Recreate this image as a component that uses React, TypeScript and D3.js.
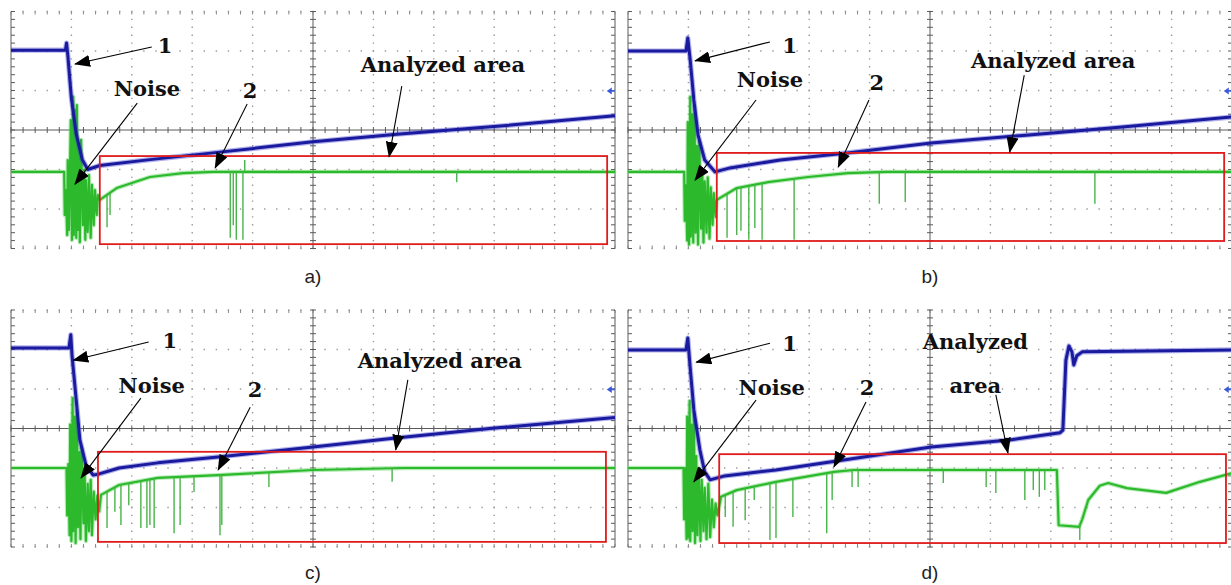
import * as d3 from 'd3';
import React, { useEffect, useRef } from 'react';

type Pt = [number, number];
type Label = { text: string; x: number; y: number };
type Arrow = [number, number, number, number];

const WIDTH = 1231;
const HEIGHT = 585;
const PANEL_W = 604;
const PANEL_H = 237;

// Screen units are oscilloscope divisions: x 0..10, y -3..3 (0 = centre line)

// a)
const blueA: Pt[] = [[0, 2.02], [0.9, 2.02], [0.92, 2.2], [0.94, 1.9], [1.0, 0.8], [1.08, -0.1], [1.18, -0.75], [1.27, -1.0], [1.47, -0.9], [2.3, -0.75], [3.46, -0.56], [5, -0.3], [6.44, -0.1], [8.1, 0.1], [10, 0.36]];
const greenA: Pt[] = [[0, -1.06], [0.88, -1.06], [0.89, -2.15], [0.91, -1.52], [0.93, -2.66], [0.94, -0.76], [0.96, -2.53], [0.99, 0.25], [1.01, -2.78], [1.03, 0.84], [1.04, -2.66], [1.06, 0.51], [1.08, -2.73], [1.09, 0.63], [1.11, -2.53], [1.13, -0.51], [1.14, -2.84], [1.16, -0.25], [1.19, -2.41], [1.21, -1.01], [1.23, -2.78], [1.24, -1.27], [1.27, -2.58], [1.29, -1.14], [1.32, -2.73], [1.34, -1.39], [1.37, -2.41], [1.39, -1.52], [1.42, -2.15], [1.44, -1.65], [1.47, -1.77], [1.75, -1.47], [2.3, -1.19], [2.85, -1.09], [3.35, -1.06], [10, -1.06]];
const spikesA: Pt[] = [[1.59, -2.46], [1.64, -2.15], [3.63, -2.73], [3.68, -2.41], [3.73, -2.78], [3.84, -2.78], [3.87, -0.76], [7.38, -1.32]];
const boxA = [1.47, -0.66, 9.87, -2.89];
const labelsA: Label[] = [{ text: '1', x: 2.55, y: 2.15 }, { text: 'Noise', x: 2.25, y: 1.04 }, { text: '2', x: 3.96, y: 0.99 }, { text: 'Analyzed area', x: 7.15, y: 1.65 }];
const arrowsA: Arrow[] = [[2.33, 2.1, 1.06, 1.67], [2.09, 0.68, 1.06, -1.37], [3.91, 0.66, 3.38, -0.96], [6.47, 1.11, 6.26, -0.68]];

// b)
const blueB: Pt[] = [[0, 2.0], [0.96, 2.0], [0.99, 2.33], [1.03, 1.77], [1.09, 0.76], [1.16, -0.13], [1.27, -0.76], [1.44, -1.06], [1.69, -0.96], [2.52, -0.76], [3.63, -0.58], [5.02, -0.33], [6.59, -0.13], [8.23, 0.08], [10, 0.33]];
const greenB: Pt[] = [[0, -1.06], [0.93, -1.06], [0.94, -2.3], [0.96, -1.4], [0.98, -2.8], [0.99, 0.2], [1.01, -2.9], [1.03, 0.84], [1.04, -2.7], [1.06, 0.4], [1.08, -2.85], [1.1, 0.6], [1.12, -2.6], [1.14, -0.4], [1.16, -2.9], [1.18, -0.3], [1.21, -2.5], [1.23, -1.1], [1.25, -2.85], [1.27, -1.3], [1.3, -2.6], [1.32, -1.2], [1.35, -2.75], [1.37, -1.45], [1.4, -2.4], [1.42, -1.6], [1.45, -2.2], [1.47, -1.77], [1.8, -1.47], [2.32, -1.32], [2.98, -1.19], [3.64, -1.09], [4.29, -1.06], [10, -1.06]];
const spikesB: Pt[] = [[1.64, -2.73], [1.8, -2.66], [1.87, -2.55], [2.0, -2.78], [2.1, -2.48], [2.22, -2.78], [2.75, -2.78], [4.16, -1.87], [4.59, -1.82], [7.73, -1.87]];
const boxB = [1.47, -0.58, 9.87, -2.81];
const labelsB: Label[] = [{ text: '1', x: 2.68, y: 2.15 }, { text: 'Noise', x: 2.35, y: 1.29 }, { text: '2', x: 4.12, y: 1.19 }, { text: 'Analyzed area', x: 7.04, y: 1.77 }];
const arrowsB: Arrow[] = [[2.35, 2.23, 1.11, 1.75], [2.12, 0.76, 1.11, -1.27], [3.99, 0.76, 3.48, -0.94], [6.56, 1.39, 6.32, -0.56]];

// c)
const blueC: Pt[] = [[0, 2.04], [0.96, 2.04], [0.99, 2.37], [1.01, 1.86], [1.08, 0.72], [1.14, -0.29], [1.24, -0.92], [1.36, -1.18], [1.46, -1.15], [1.79, -1.0], [2.43, -0.87], [3.43, -0.72], [5, -0.47], [6.37, -0.24], [8.01, 0.01], [10, 0.28]];
const greenC: Pt[] = [[0, -1.0], [0.92, -1.0], [0.93, -2.2], [0.95, -0.9], [0.97, -2.7], [0.98, 0.1], [1.0, -2.85], [1.02, 0.77], [1.03, -2.6], [1.05, 0.3], [1.07, -2.9], [1.09, 0.45], [1.11, -2.5], [1.13, -0.6], [1.15, -2.8], [1.17, -0.5], [1.2, -2.4], [1.22, -1.2], [1.24, -2.85], [1.27, -1.4], [1.29, -2.6], [1.32, -1.3], [1.34, -2.7], [1.37, -1.6], [1.4, -2.3], [1.43, -1.7], [1.46, -2.1], [1.49, -1.68], [1.79, -1.43], [2.43, -1.25], [3.43, -1.18], [5, -1.05], [6.5, -1.0], [10, -1.0]];
const spikesC: Pt[] = [[1.59, -2.52], [1.72, -2.11], [1.82, -2.44], [1.95, -1.94], [2.15, -2.52], [2.25, -2.52], [2.3, -2.44], [2.37, -2.52], [2.7, -2.65], [2.8, -2.44], [3.03, -1.61], [3.46, -2.7], [3.49, -2.44], [4.27, -1.48], [6.31, -1.35]];
const boxC = [1.44, -0.59, 9.85, -2.87];
const labelsC: Label[] = [{ text: '1', x: 2.63, y: 2.22 }, { text: 'Noise', x: 2.33, y: 1.08 }, { text: '2', x: 4.04, y: 1.0 }, { text: 'Analyzed area', x: 7.1, y: 1.71 }];
const arrowsC: Arrow[] = [[2.28, 2.19, 1.03, 1.73], [2.15, 0.77, 1.16, -1.25], [3.96, 0.54, 3.43, -1.05], [6.57, 1.23, 6.37, -0.54]];

// d)
const blueD: Pt[] = [[0, 1.99], [0.96, 1.99], [0.99, 2.29], [1.03, 1.53], [1.09, 0.47], [1.19, -0.54], [1.27, -1.1], [1.36, -1.3], [1.6, -1.2], [2.45, -1.05], [5.02, -0.47], [6.32, -0.29], [7.15, -0.11], [7.2, -0.04], [7.25, 1.73], [7.3, 2.09], [7.35, 1.94], [7.38, 1.61], [7.43, 1.84], [7.52, 1.94], [10, 1.99]];
const greenD: Pt[] = [[0, -1.0], [0.92, -1.0], [0.93, -2.3], [0.95, -1.0], [0.97, -2.8], [0.98, 0.3], [1.0, -2.75], [1.02, 0.7], [1.03, -2.85], [1.05, 0.1], [1.07, -2.6], [1.09, 0.4], [1.11, -2.9], [1.13, -0.7], [1.15, -2.7], [1.17, -1.0], [1.2, -2.85], [1.22, -1.3], [1.25, -2.6], [1.27, -1.5], [1.3, -2.8], [1.33, -1.4], [1.36, -2.75], [1.39, -1.8], [1.42, -2.5], [1.45, -1.9], [1.48, -2.2], [1.54, -1.73], [1.8, -1.56], [2.45, -1.35], [3.41, -1.1], [3.74, -1.05], [7.1, -1.05], [7.13, -2.45], [7.47, -2.49], [7.52, -2.3], [7.62, -1.81], [7.81, -1.45], [7.95, -1.38], [8.26, -1.51], [8.91, -1.63], [9.47, -1.35], [10, -1.13]];
const spikesD: Pt[] = [[1.61, -2.24], [1.74, -2.49], [1.94, -2.32], [2.09, -1.81], [2.35, -2.82], [2.45, -2.77], [2.73, -2.24], [3.29, -2.65], [3.38, -1.81], [3.71, -1.48], [3.81, -1.48], [5.22, -1.38], [5.93, -1.48], [6.09, -1.63], [6.57, -1.81], [6.71, -1.56], [6.81, -1.73], [6.9, -1.56], [7.48, -2.82]];
const boxD = [1.51, -0.65, 9.9, -2.9];
const labelsD: Label[] = [{ text: '1', x: 2.68, y: 2.16 }, { text: 'Noise', x: 2.38, y: 1.03 }, { text: '2', x: 3.96, y: 1.03 }, { text: 'Analyzed', x: 5.75, y: 2.19 }, { text: 'area', x: 5.75, y: 1.1 }];
const arrowsD: Arrow[] = [[2.35, 2.16, 1.13, 1.68], [2.12, 0.72, 1.09, -1.35], [3.94, 0.67, 3.41, -0.97], [6.09, 0.85, 6.29, -0.62]];

const panels = [
  { caption: 'a)', left: 11, top: 11.5, capY: 276, blue: blueA, green: greenA, spikes: spikesA, box: boxA, labels: labelsA, arrows: arrowsA },
  { caption: 'b)', left: 628, top: 11.5, capY: 276, blue: blueB, green: greenB, spikes: spikesB, box: boxB, labels: labelsB, arrows: arrowsB },
  { caption: 'c)', left: 11, top: 310, capY: 572, blue: blueC, green: greenC, spikes: spikesC, box: boxC, labels: labelsC, arrows: arrowsC },
  { caption: 'd)', left: 628, top: 310, capY: 572, blue: blueD, green: greenD, spikes: spikesD, box: boxD, labels: labelsD, arrows: arrowsD },
];

const App = () => {
  const ref = useRef<SVGSVGElement>(null);

  useEffect(() => {
    if (ref.current === null) return;
    ref.current.replaceChildren();

    const svg = d3.select(ref.current).attr('width', WIDTH).attr('height', HEIGHT);
    svg.append('rect').attr('width', WIDTH).attr('height', HEIGHT).attr('fill', '#fff');

    svg
      .append('defs')
      .append('marker')
      .attr('id', 'head')
      .attr('viewBox', '0 0 16 12')
      .attr('refX', 15)
      .attr('refY', 6)
      .attr('markerWidth', 16)
      .attr('markerHeight', 12)
      .attr('markerUnits', 'userSpaceOnUse')
      .attr('orient', 'auto')
      .append('path')
      .attr('d', 'M0,0L16,6L0,12Z')
      .attr('fill', '#000');

    const x = d3.scaleLinear().domain([0, 10]).range([0, PANEL_W]);
    const y = d3.scaleLinear().domain([-3, 3]).range([PANEL_H, 0]);
    const line = d3.line<Pt>().x((d) => x(d[0])).y((d) => y(d[1]));
    const fifthsX = d3.range(0, 10.001, 0.2);
    const fifthsY = d3.range(-3, 3.001, 0.2);
    const dx = x(0.2) - x(0);
    const dy = y(0) - y(0.2);

    panels.forEach((p) => {
      const g = svg.append('g').attr('transform', `translate(${p.left},${p.top})`);

      // Dotted graticule
      const grid = g.append('g').attr('stroke', '#9a9a9a').attr('stroke-width', 1.4);
      [-3, -2, -1, 1, 2, 3].forEach((v) =>
        grid.append('line').attr('x1', 0).attr('x2', PANEL_W).attr('y1', y(v)).attr('y2', y(v))
          .attr('stroke-dasharray', `1.4 ${dx - 1.4}`).attr('stroke-dashoffset', 0.7),
      );
      [1, 2, 3, 4, 6, 7, 8, 9].forEach((v) =>
        grid.append('line').attr('y1', 0).attr('y2', PANEL_H).attr('x1', x(v)).attr('x2', x(v))
          .attr('stroke-dasharray', `1.4 ${dy - 1.4}`).attr('stroke-dashoffset', 0.7),
      );

      // Centre axes and side frame with ticks
      const axes = g.append('g').attr('stroke', '#5a5a5a').attr('stroke-width', 1);
      axes.append('line').attr('x1', 0).attr('x2', PANEL_W).attr('y1', y(0)).attr('y2', y(0));
      axes.append('line').attr('x1', x(5)).attr('x2', x(5)).attr('y1', 0).attr('y2', PANEL_H);
      axes.append('line').attr('x1', x(0)).attr('x2', x(0)).attr('y1', 0).attr('y2', PANEL_H);
      axes.append('line').attr('x1', x(10)).attr('x2', x(10)).attr('y1', 0).attr('y2', PANEL_H);
      fifthsX.forEach((v) => {
        axes.append('line').attr('x1', x(v)).attr('x2', x(v)).attr('y1', y(0) - 3).attr('y2', y(0) + 3);
        axes.append('line').attr('x1', x(v)).attr('x2', x(v)).attr('y1', y(-3) - 3).attr('y2', y(-3)).attr('stroke', '#888');
        axes.append('line').attr('x1', x(v)).attr('x2', x(v)).attr('y1', y(3)).attr('y2', y(3) + 3).attr('stroke', '#888');
      });
      fifthsY.forEach((v) => {
        axes.append('line').attr('x1', x(5) - 3).attr('x2', x(5) + 3).attr('y1', y(v)).attr('y2', y(v));
        axes.append('line').attr('x1', x(0)).attr('x2', x(0) + 4).attr('y1', y(v)).attr('y2', y(v));
        axes.append('line').attr('x1', x(10) - 4).attr('x2', x(10)).attr('y1', y(v)).attr('y2', y(v));
      });

      // Channel 2 (green): trace, then glitches
      const trace = d3.scaleLinear().domain(p.green.map((d) => d[0])).range(p.green.map((d) => d[1]));
      g.append('path').attr('d', line(p.green)).attr('fill', 'none')
        .attr('stroke', '#6fd86f').attr('stroke-width', 4.4).attr('stroke-opacity', 0.5).attr('stroke-linejoin', 'round');
      g.append('path').attr('d', line(p.green)).attr('fill', 'none')
        .attr('stroke', '#2cba2c').attr('stroke-width', 2.2).attr('stroke-linejoin', 'round');
      g.append('g').attr('stroke', '#48b448').attr('stroke-width', 1.4)
        .selectAll('line').data(p.spikes).join('line')
        .attr('x1', (d) => x(d[0])).attr('x2', (d) => x(d[0]))
        .attr('y1', (d) => y(trace(d[0]))).attr('y2', (d) => y(d[1]));

      // Channel 1 (blue)
      g.append('path').attr('d', line(p.blue)).attr('fill', 'none')
        .attr('stroke', '#3c3cd0').attr('stroke-width', 5.2).attr('stroke-opacity', 0.4).attr('stroke-linejoin', 'round');
      g.append('path').attr('d', line(p.blue)).attr('fill', 'none')
        .attr('stroke', '#1a1a9e').attr('stroke-width', 3).attr('stroke-linejoin', 'round');

      // Trigger level marker on the right edge
      g.append('path')
        .attr('transform', `translate(${x(9.93)},${y(0.99)})`)
        .attr('d', 'M-4,0L1,-3.5L1,3.5Z M0,-0.8H4V0.8H0Z')
        .attr('fill', '#3a5ad8');

      // Analysed area box
      const [bx0, by0, bx1, by1] = p.box;
      g.append('rect')
        .attr('x', x(bx0)).attr('y', y(by0))
        .attr('width', x(bx1) - x(bx0)).attr('height', y(by1) - y(by0))
        .attr('fill', 'none').attr('stroke', '#e01b1b').attr('stroke-width', 1.8);

      // Arrows and labels
      g.append('g').selectAll('line').data(p.arrows).join('line')
        .attr('x1', (d) => x(d[0])).attr('y1', (d) => y(d[1]))
        .attr('x2', (d) => x(d[2])).attr('y2', (d) => y(d[3]))
        .attr('stroke', '#000').attr('stroke-width', 1.1).attr('marker-end', 'url(#head)');
      g.append('g').selectAll('text').data(p.labels).join('text')
        .attr('x', (d) => x(d.x)).attr('y', (d) => y(d.y))
        .attr('text-anchor', 'middle').attr('dominant-baseline', 'central')
        .attr('font-family', '"DejaVu Serif", serif').attr('font-weight', 'bold').attr('font-size', 21)
        .attr('fill', '#111').text((d) => d.text);

      svg.append('text')
        .attr('x', p.left + x(5)).attr('y', p.capY)
        .attr('text-anchor', 'middle').attr('dominant-baseline', 'central')
        .attr('font-family', '"Liberation Sans", Arial, sans-serif').attr('font-size', 19)
        .attr('fill', '#222').text(p.caption);
    });
  }, []);

  return <svg ref={ref} style={{ position: 'absolute', left: 0, top: 0, display: 'block' }} />;
};

export default App;
